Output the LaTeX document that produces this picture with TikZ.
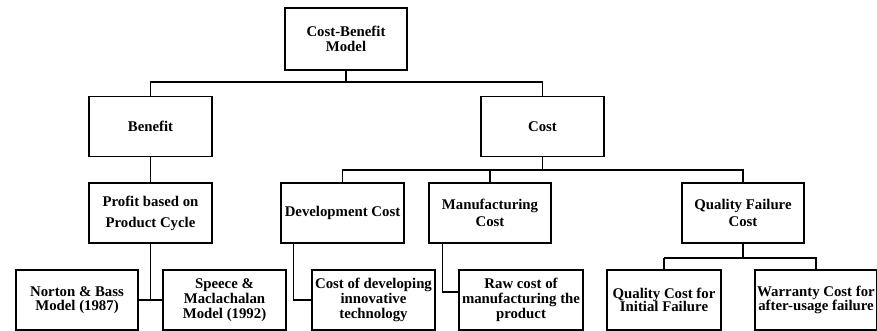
\documentclass[tikz,border=0pt]{standalone}
\usepackage{fontspec}
\setmainfont{Liberation Serif}
\usetikzlibrary{positioning}
\tikzset{
  box/.style={draw, line width=1.2pt, align=center, minimum height=60pt, minimum width=122pt, inner sep=1pt, font=\bfseries\fontsize{14.8}{15}\selectfont},
  link/.style={line width=1.1pt},
  thicklink/.style={line width=1.8pt}
}

\begin{document}
\begin{tikzpicture}[x=1pt, y=-1pt]
\useasboundingbox (0,0) rectangle (877,331);
% top levels
\node[box, minimum height=62pt] (model) at (346,39) {Cost-Benefit\\Model};
\node[box, minimum width=123pt] (benefit) at (150.5,126.5) {Benefit};
\node[box, minimum width=123pt] (cost) at (542.5,126.5) {Cost};
% second level
\node[box, minimum width=123pt, font=\bfseries\fontsize{14.8}{21}\selectfont] (profit) at (150.5,213) {Profit based on\\Product Cycle};
\node[box, minimum width=123pt] (devcost) at (342.5,213) {Development Cost};
\node[box, font=\bfseries\fontsize{14.8}{17}\selectfont] (manucost) at (490,213) {Manufacturing\\Cost};
\node[box, font=\bfseries\fontsize{14.8}{17}\selectfont] (qfcost) at (743,213) {Quality Failure\\Cost};
% bottom row
\node[box, font=\bfseries\fontsize{14.8}{13.5}\selectfont] (norton) at (77,300) {Norton \& Bass\\Model (1987)};
\node[box, minimum width=123pt] (speece) at (224.5,300) {Speece \&\\Maclachalan\\Model (1992)};
\node[box, minimum width=123pt] (devtech) at (373.5,300) {Cost of developing\\innovative\\technology};
\node[box, minimum width=124pt] (rawcost) at (521,300) {Raw cost of\\manufacturing the\\product};
\node[box, minimum width=114pt, font=\bfseries\fontsize{14.8}{13.5}\selectfont] (initfail) at (664,300) {Quality Cost for\\Initial Failure};
\node[box, font=\bfseries\fontsize{14.8}{13.5}\selectfont] (warranty) at (816,300) {Warranty Cost for\\after-usage failure};
% connectors
\coordinate (split1) at (346,82);
\coordinate (split2) at (542.5,170);
\coordinate (split3) at (743,258);
\draw[link] (model) -- (split1);
\draw[link] (benefit.north) |- (split1) -| (cost.north);
\draw[thicklink] (benefit) -- (profit);
\draw[thicklink] (cost) -- (split2);
\draw[link] (devcost.north) |- (split2) -| (qfcost.north);
\draw[link] (manucost.north) -- (manucost.north |- split2);
\draw[link] (profit.south) -- (profit.south |- norton.east);
\draw[link] (norton) -- (speece);
\draw[link] ([xshift=13pt]devcost.south west) |- (devtech.west);
\draw[link] ([xshift=14pt]manucost.south west) |- ([yshift=8pt]rawcost.west);
\draw[thicklink] (qfcost) -- (split3);
\draw[thicklink] (initfail.north |- split3) -| (warranty.north);
\draw[thicklink] (initfail.north |- split3) -- (initfail.north);
\end{tikzpicture}
\end{document}
